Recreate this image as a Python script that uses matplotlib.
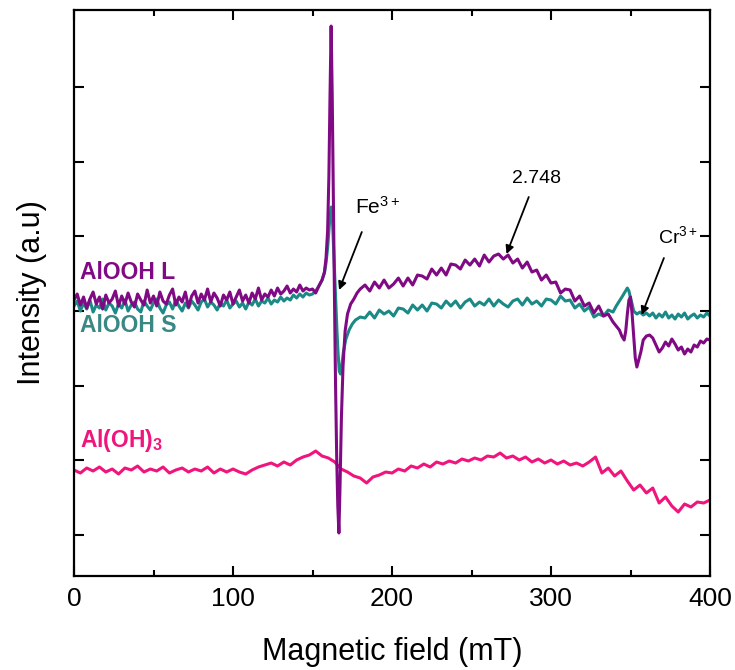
import numpy as np
import matplotlib
matplotlib.use("Agg")
import matplotlib.pyplot as plt

plt.rcParams['font.family'] = ['Liberation Sans', 'DejaVu Sans']
plt.rcParams['mathtext.fontset'] = 'custom'
plt.rcParams['mathtext.rm'] = 'Liberation Sans'
plt.rcParams['mathtext.it'] = 'Liberation Sans:italic'
plt.rcParams['mathtext.bf'] = 'Liberation Sans:bold'

# ---------------- data (intensity in arbitrary units) ----------------
# AlOOH L (purple)
L_x = np.concatenate([
    np.arange(0, 150, 2),
    [150, 152, 154, 156, 157.5, 158.5, 159.5, 160.3, 161, 161.7,
     162.4, 163.1, 163.8, 164.5, 165.2, 165.9, 166.6, 167.3, 168.2, 169.2,
     170.5, 172, 174, 176, 178, 180],
    np.arange(183, 340, 3),
    [341, 343, 344.5, 346, 347, 348, 349, 350, 351, 352, 353, 354, 355, 356.5, 358, 360],
    np.arange(362, 401, 2),
])
L_y = np.array(
    [276, 282, 271, 279, 268, 277, 284, 272, 279, 267,
     281, 273, 277, 285, 270, 280, 272, 283, 274, 269,
     282, 276, 271, 286, 273, 280, 270, 284, 275, 272,
     281, 287, 271, 279, 274, 284, 269, 280, 285, 273,
     282, 276, 287, 274, 283, 278, 270, 281, 276, 284,
     272, 279, 286, 275, 281, 273, 283, 277, 288, 276,
     282, 279, 286, 280, 288, 282, 285, 290, 283, 287,
     284, 291, 285, 288, 286]
    + [287, 283, 290, 296, 304, 318, 345, 400, 480, 550,
       480, 380, 280, 190, 120, 70, 43, 90, 160, 210,
       245, 262, 272, 277, 283, 287]
    + [291, 285, 294, 288, 296, 288, 292, 298, 290, 298,
       291, 301, 300, 297, 307, 301, 308, 301, 312, 311,
       307, 316, 311, 317, 310, 321, 314, 320, 322, 317,
       321, 313, 317, 308, 314, 304, 306, 296, 301, 293,
       294, 283, 287, 286, 275, 280, 270, 273, 263, 270,
       260, 262, 254]
    + [250, 246, 240, 236, 245, 262, 276, 279, 262, 240, 218, 209, 215, 224, 236, 240]
    + [241, 238, 231, 224, 228, 234, 230, 237, 232, 226,
       229, 222, 227, 224, 231, 229, 235, 233, 237, 236]
)

# AlOOH S (teal)
S_x = np.concatenate([
    np.arange(0, 150, 2),
    [150, 152, 154, 156, 157.5, 158.5, 159.5, 160.3, 161, 161.8,
     162.5, 163.2, 163.9, 164.6, 165.3, 166, 166.8, 167.6, 168.5, 169.5,
     171, 173, 175, 177, 180],
    np.arange(183, 340, 3),
    [341, 343, 345, 346.5, 348, 349, 350, 351, 352, 354, 356, 358, 360],
    np.arange(362, 401, 2),
])
S_y = np.array(
    [270, 275, 265, 273, 267, 276, 264, 271, 268, 277,
     266, 273, 270, 263, 272, 268, 276, 265, 271, 274,
     267, 264, 275, 270, 266, 273, 277, 268, 263, 271,
     274, 267, 276, 270, 265, 273, 268, 275, 271, 266,
     274, 277, 269, 274, 271, 266, 273, 270, 276, 268,
     272, 275, 269, 273, 267, 274, 271, 277, 270, 275,
     273, 278, 272, 276, 274, 279, 275, 278, 276, 281,
     278, 282, 279, 283, 281]
    + [282, 285, 290, 296, 303, 313, 328, 345, 360, 369,
       358, 330, 300, 272, 248, 225, 205, 202, 212, 225,
       237, 246, 252, 256, 259]
    + [258, 264, 258, 266, 262, 265, 260, 268, 267, 263,
       271, 266, 271, 265, 273, 272, 268, 275, 270, 275,
       268, 274, 277, 270, 274, 271, 277, 270, 276, 272,
       269, 275, 277, 271, 278, 272, 275, 270, 277, 276,
       272, 280, 275, 276, 268, 272, 265, 269, 259, 262,
       260, 266, 264]
    + [270, 275, 280, 284, 288, 285, 278, 272, 265, 262, 264, 261, 263]
    + [260, 263, 258, 262, 259, 264, 258, 261, 257, 262,
       259, 263, 257, 260, 262, 258, 261, 259, 263, 260]
)

# Al(OH)3 (pink)
P_x = np.arange(0, 401, 4)
P_y = np.array(
    [106, 103, 108, 105, 109, 104, 107, 102, 108, 106,
     110, 104, 107, 105, 109, 103, 106, 108, 104, 107,
     105, 109, 103, 107, 104]
    + [107, 104, 102, 106, 109, 111, 113, 110, 114, 111, 116, 119, 121]
    + [125, 120, 118, 114, 107, 104, 100, 98, 93, 99, 101, 104]
    + [103, 107, 105, 110, 108, 112, 109, 114, 112, 115, 113, 117, 115]
    + [118, 116, 120, 119, 123, 118, 120, 116, 119, 114, 117, 113, 116]
    + [112, 115, 111, 113, 110, 114, 119, 103, 108, 100, 105, 95]
    + [86, 91, 83, 88, 73, 79, 70, 64, 72, 69, 74, 73, 76]
)

series_labels = ['AlOOH L', 'AlOOH S', r'$\mathbf{Al(OH)_3}$']
colors = ['#800a84', '#1b8a86', '#f0157d']
label_colors = ['#800a84', '#3a8884', '#f0157d']

# ---------------- figure ----------------
fig = plt.figure(figsize=(7.35, 6.7), dpi=100)
ax = fig.add_axes([0.1007, 0.1403, 0.8653, 0.8447])

ax.plot(P_x, P_y, color=colors[2], lw=2.2)
ax.plot(S_x, S_y, color=colors[1], lw=2.2)
ax.plot(L_x, L_y, color=colors[0], lw=2.2)

ax.set_xlim(0, 400)
ax.set_ylim(0, 566)
ax.set_xticks([0, 100, 200, 300, 400])
ax.set_xticks([50, 150, 250, 350], minor=True)
ax.set_yticks([41, 115.7, 190.4, 265.1, 339.8, 414.5, 489.2])
ax.set_yticklabels([])
ax.tick_params(axis='both', which='both', direction='in', top=True, right=True, width=1.5)
ax.tick_params(axis='both', which='major', length=7)
ax.tick_params(axis='both', which='minor', length=4)
ax.tick_params(axis='x', labelsize=19, pad=8)
for sp in ax.spines.values():
    sp.set_linewidth(1.6)

ax.set_xlabel('Magnetic field (mT)', fontsize=22, labelpad=19)
ax.set_ylabel('Intensity (a.u)', fontsize=22, labelpad=16)

# series labels
ax.text(4, 304, series_labels[0], color=label_colors[0], fontsize=16.5, fontweight='bold', va='center')
ax.text(4, 251, series_labels[1], color=label_colors[1], fontsize=16.5, fontweight='bold', va='center')
ax.text(4, 136, series_labels[2], color=label_colors[2], fontsize=16.5, va='center')

# annotations
arrow = dict(arrowstyle='-|>', color='black', lw=1.3, mutation_scale=12, shrinkA=0, shrinkB=0)
ax.text(177, 362, r'Fe$^{3+}$', fontsize=15, va='baseline')
ax.annotate('', xy=(166.7, 286), xytext=(181, 344), arrowprops=arrow)
ax.text(291, 398, '2.748', fontsize=14, ha='center', va='center')
ax.annotate('', xy=(272, 322), xytext=(286, 379), arrowprops=arrow)
ax.text(367, 333, r'Cr$^{3+}$', fontsize=14, va='baseline')
ax.annotate('', xy=(357, 261), xytext=(371, 318), arrowprops=arrow)

fig.savefig('out.png', dpi=100)
